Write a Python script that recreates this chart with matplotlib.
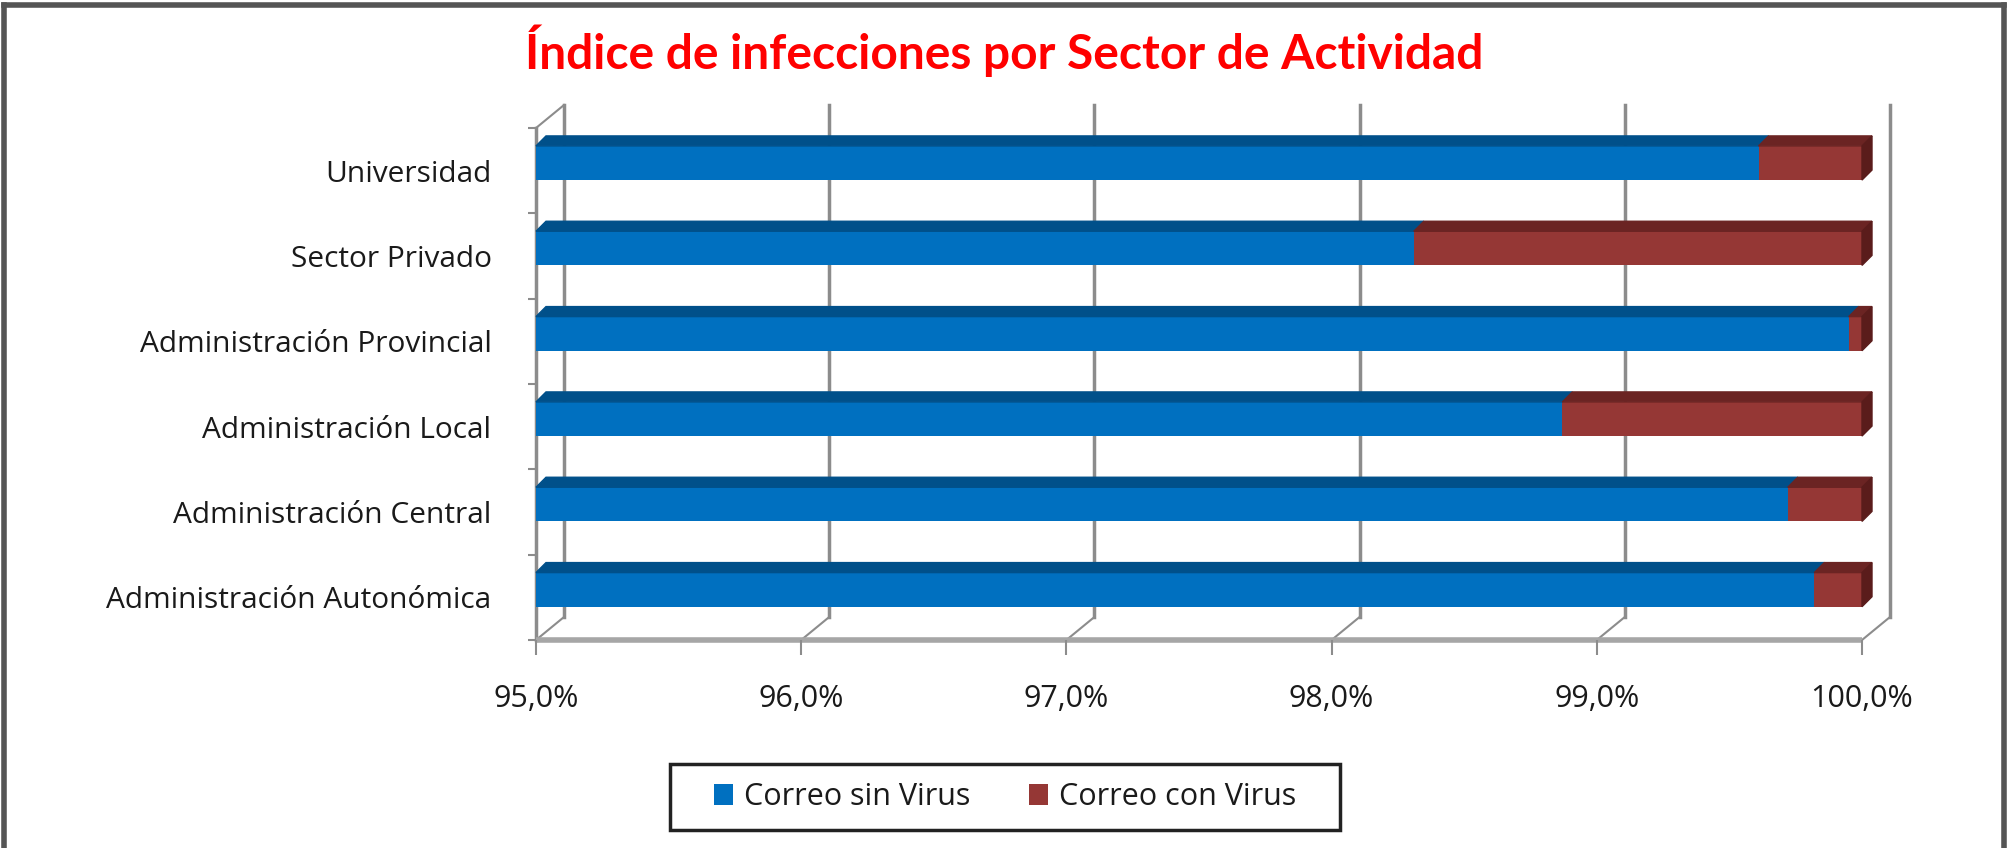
import matplotlib
matplotlib.use("Agg")
import matplotlib.pyplot as plt
from matplotlib.patches import Polygon, Patch, Rectangle
from matplotlib.lines import Line2D

# data (bottom to top)
sectores = ["Administración Autonómica", "Administración Central",
            "Administración Local", "Administración Provincial",
            "Sector Privado", "Universidad"]
sin_virus = [99.82, 99.72, 98.87, 99.95, 98.31, 99.61]
con_virus = [0.18, 0.28, 1.13, 0.05, 1.69, 0.39]
x_ticks = [95, 96, 97, 98, 99, 100]
x_labels = ["95,0%", "96,0%", "97,0%", "98,0%", "99,0%", "100,0%"]
series = ["Correo sin Virus", "Correo con Virus"]

BLUE, BLUE_TOP = "#0070C0", "#00508A"
RED, RED_TOP, RED_SIDE = "#953735", "#6B2423", "#5A1C1B"
GRID = "#8c8c8c"
TXT = "#1a1a1a"

W, H = 2011, 848
fig = plt.figure(figsize=(W / 100, H / 100), dpi=100)
ax = fig.add_axes([536 / W, 1 - 640 / H, (1862 - 536) / W, (640 - 128) / H])
ax.set_xlim(95, 100)
ax.set_ylim(0, 6)
for s in ax.spines.values():
  s.set_visible(False)

# pixel -> data offsets for the fake 3d depth
inv = ax.transData.inverted()
px0, py0 = ax.transData.transform((95, 0))
def depth(dx, dy):
  x, y = inv.transform((px0 + dx, py0 + dy))
  return x - 95, y

wx, wy = depth(28, 23)   # back wall
bx, by = depth(10, 10)   # bar depth

# back wall grid + floor diagonals
for t in x_ticks:
  ax.plot([t + wx, t + wx], [wy, 6 + wy], color=GRID, lw=2.5, clip_on=False, zorder=1)
  ax.plot([t, t + wx], [0, wy], color=GRID, lw=1.5, clip_on=False, zorder=1)
ax.plot([95, 95], [0, 6], color=GRID, lw=2.5, clip_on=False, zorder=1)
ax.plot([95, 95 + wx], [6, 6 + wy], color=GRID, lw=1.5, clip_on=False, zorder=1)
ax.plot([95, 100], [0, 0], color="#a6a6a6", lw=4, clip_on=False, zorder=1,
        solid_capstyle="butt")

# bars
bh = 0.40
ys = [i + 0.5 + 0.09 for i in range(len(sectores))]
ax.barh(ys, [v - 95 for v in sin_virus], left=95, height=bh, color=BLUE, zorder=3)
ax.barh(ys, con_virus, left=sin_virus, height=bh, color=RED, zorder=3)
for y, a, c in zip(ys, sin_virus, con_virus):
  yt = y + bh / 2
  yb = y - bh / 2
  b = a + c
  ax.add_patch(Polygon([(95, yt), (a, yt), (a + bx, yt + by), (95 + bx, yt + by)],
                       closed=True, color=BLUE_TOP, zorder=3, clip_on=False))
  ax.add_patch(Polygon([(a, yt), (b, yt), (b + bx, yt + by), (a + bx, yt + by)],
                       closed=True, color=RED_TOP, zorder=3, clip_on=False))
  ax.add_patch(Polygon([(b, yb), (b, yt), (b + bx, yt + by), (b + bx, yb + by)],
                       closed=True, color=RED_SIDE, zorder=3, clip_on=False))

# axes ticks
ax.set_xticks(x_ticks)
ax.set_xticklabels(x_labels, fontsize=22, family="Open Sans", color=TXT)
ax.tick_params(axis="x", length=11, width=1.5, color=GRID, pad=21)
ax.set_yticks(range(7))
ax.set_yticklabels([])
ax.tick_params(axis="y", which="major", length=6, width=1.5, color=GRID)
ax.set_yticks([i + 0.5 for i in range(6)], minor=True)
ax.set_yticklabels(sectores, minor=True, fontsize=21.5, family="Open Sans", color=TXT)
ax.tick_params(axis="y", which="minor", length=0, pad=32)

# title
fig.text(1004 / W, 1 - 51 / H, "Índice de infecciones por Sector de Actividad",
         color="#FF0000", fontsize=34.5, fontweight="bold", family="Lato",
         ha="center", va="center")

# legend, with its own box
fig.add_artist(Rectangle((670 / W, 1 - 830 / H), 670 / W, 66 / H,
                         transform=fig.transFigure, facecolor="white",
                         edgecolor="#222222", lw=2.5))
handles = [Patch(facecolor=BLUE), Patch(facecolor=RED)]
leg = fig.legend(handles, series, loc="center", bbox_to_anchor=(1005 / W, 1 - 797 / H),
                 ncol=2, frameon=False, prop={"family": "Open Sans", "size": 22},
                 handlelength=0.62, handleheight=0.68, columnspacing=1.9,
                 borderpad=0, handletextpad=0.38, borderaxespad=0)
for t in leg.get_texts():
  t.set_color(TXT)

# outer frame (top, left and right edges)
fc = "#555555"
fig.add_artist(Line2D([4 / W, 2004 / W], [1 - 5 / H, 1 - 5 / H], color=fc, lw=4))
fig.add_artist(Line2D([4 / W, 4 / W], [0, 1 - 5 / H], color=fc, lw=4))
fig.add_artist(Line2D([2004 / W, 2004 / W], [0, 1 - 5 / H], color=fc, lw=4))

plt.savefig("out.png", dpi=100)
